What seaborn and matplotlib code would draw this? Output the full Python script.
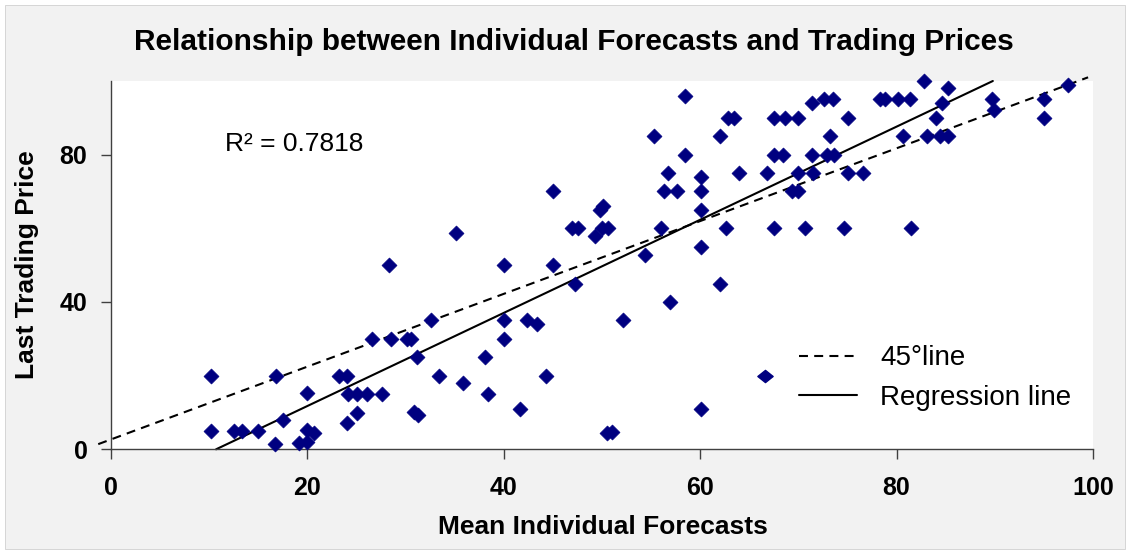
import matplotlib
matplotlib.use("Agg")
import matplotlib.pyplot as plt
from matplotlib.patches import Rectangle
from matplotlib.lines import Line2D
from matplotlib.path import Path
import seaborn as sns
import pandas as pd

# ---- data ----
mean_forecast = [
    10.2, 10.2, 12.5, 13.3, 15.0, 16.8, 17.5, 16.7, 19.1, 20.0,
    20.0, 20.7, 20.0, 23.2, 24.0, 24.1, 25.1, 26.1, 27.6, 24.0,
    25.1, 26.6, 28.5, 30.1, 30.5, 28.3, 31.2, 30.9, 31.3, 32.6,
    33.4, 35.1, 35.8, 38.1, 38.4, 40.0, 40.0, 40.0, 42.4, 43.4,
    44.3, 41.6, 45.0, 45.0, 47.3, 46.9, 47.6, 49.3, 49.8, 50.1,
    50.0, 50.6, 50.5, 51.0, 52.1, 54.4, 55.3, 56.0, 56.3, 56.7,
    57.6, 56.9, 58.5, 58.5, 60.1, 60.1, 60.1, 60.1, 60.1, 62.0,
    62.0, 62.6, 62.8, 63.4, 64.0, 66.8, 67.5, 67.5, 68.4,
    67.5, 68.6, 70.0, 69.3, 70.0, 70.0, 70.7, 71.4, 71.4, 71.5,
    72.6, 73.5, 73.2, 72.9, 73.6, 75.0, 75.0, 74.6, 76.6, 78.3,
    78.8, 80.1, 81.4, 80.7, 81.5, 82.8, 85.2, 84.6, 84.0, 83.1,
    84.4, 85.2, 89.7, 89.9, 95.0, 95.0, 97.5,
]
last_price = [
    20.0, 5.0, 5.0, 5.0, 5.0, 20.0, 8.0, 1.5, 1.8, 2.1,
    5.2, 4.3, 15.3, 20.0, 20.0, 15.0, 15.0, 15.0, 15.0, 7.2,
    9.8, 30.0, 30.0, 30.0, 30.0, 50.0, 25.0, 10.2, 9.4, 35.0,
    20.0, 58.7, 18.0, 25.0, 15.0, 50.0, 35.0, 30.0, 35.0, 34.0,
    20.0, 11.0, 70.0, 50.0, 45.0, 60.0, 60.0, 58.0, 65.0, 66.0,
    60.0, 60.0, 4.5, 4.8, 35.0, 52.7, 85.0, 60.0, 70.0, 75.0,
    70.0, 40.0, 96.0, 80.0, 74.0, 70.0, 65.0, 55.0, 11.0, 85.0,
    45.0, 60.0, 90.0, 90.0, 75.0, 75.0, 90.0, 80.0, 80.0,
    60.0, 90.0, 90.0, 70.0, 70.0, 75.0, 60.0, 94.0, 80.0, 75.0,
    95.0, 95.0, 85.0, 80.0, 80.0, 90.0, 75.0, 60.0, 75.0, 95.0,
    95.0, 95.0, 95.0, 85.0, 60.0, 100.0, 98.0, 94.0, 90.0, 85.0,
    85.0, 85.0, 95.0, 92.0, 95.0, 90.0, 99.0,
]
line45_x = [-1.3, 99.5]
line45_y = [1.4, 101.0]
reg_x = [10.7, 89.8]
reg_y = [0.0, 100.0]
x_ticks = [0, 20, 40, 60, 80, 100]
y_ticks = [0, 40, 80]
r2_text = "R\u00b2 = 0.7818"
title = "Relationship between Individual Forecasts and Trading Prices"
x_label = "Mean Individual Forecasts"
y_label = "Last Trading Price"
legend_labels = ["45\u00b0line", "Regression line"]

# ---- style ----
sns.set_style("ticks")
plt.rcParams["font.family"] = ["Liberation Sans", "DejaVu Sans"]
plt.rcParams["text.color"] = "black"

W, H = 1130, 552
fig = plt.figure(figsize=(W / 100, H / 100), dpi=100, facecolor="white")
fig.patches.append(Rectangle((5 / W, 3 / H), 1120 / W, 544 / H,
                             transform=fig.transFigure, facecolor="#f2f2f2",
                             edgecolor="#d0d0d0", linewidth=0.6, zorder=-10))

ax_l, ax_r, ax_t, ax_b = 111, 1093, 81, 449.3
ax = fig.add_axes([ax_l / W, 1 - ax_b / H, (ax_r - ax_l) / W, (ax_b - ax_t) / H])
ax.set_facecolor("white")
ax.set_zorder(1)

navy = "#000080"
df = pd.DataFrame({"x": mean_forecast, "y": last_price})
sns.scatterplot(data=df, x="x", y="y", marker="D", color=navy, s=58,
                edgecolor=navy, linewidth=0.5, ax=ax, zorder=3, clip_on=False)

ax.plot(line45_x, line45_y, color="black", lw=1.5, dashes=(4.3, 3.0),
        clip_on=False, zorder=2)
ax.plot(reg_x, reg_y, color="black", lw=1.5, clip_on=False, zorder=2)

ax.set_xlim(0, 100)
ax.set_ylim(0, 100)
ax.set_xticks(x_ticks)
ax.set_yticks(y_ticks)
ax.set_xlabel("")
ax.set_ylabel("")
for s in ["top", "right"]:
    ax.spines[s].set_visible(False)
for s in ["left", "bottom"]:
    ax.spines[s].set_color("#404040")
    ax.spines[s].set_linewidth(1.0)
ax.tick_params(axis="both", direction="out", length=7, width=1.0, color="#404040",
               labelsize=18, labelcolor="black")
ax.tick_params(axis="x", pad=12)
ax.tick_params(axis="y", pad=10)
for lab in ax.get_xticklabels() + ax.get_yticklabels():
    lab.set_fontweight("bold")

ax.text(11.6, 81.1, r2_text, fontsize=19, va="baseline", ha="left", color="black")

fig.text(574 / W, 1 - 50 / H, title, fontsize=21.5, fontweight="bold",
         ha="center", va="baseline", color="black")
fig.text(603 / W, 1 - 534 / H, x_label, fontsize=19, fontweight="bold",
         ha="center", va="baseline", color="black")
fig.text(27 / W, 1 - 265 / H, y_label, fontsize=19, fontweight="bold",
         ha="center", va="center", rotation=90, color="black")

handles = [Line2D([], [], color="black", lw=1.5, dashes=(4.3, 3.0)),
           Line2D([], [], color="black", lw=1.5)]
leg = ax.legend(handles, legend_labels, loc="center left",
                bbox_to_anchor=(799 / W, 1 - 378 / H), bbox_transform=fig.transFigure,
                frameon=False, fontsize=20, handlelength=2.1, handletextpad=0.82,
                labelspacing=0.48, borderpad=0, borderaxespad=0)
for t in leg.get_texts():
    t.set_color("black")
ax.add_artist(leg)

flat_diamond = Path([(-1, 0), (0, 0.8), (1, 0), (0, -0.8), (-1, 0)],
                    [Path.MOVETO, Path.LINETO, Path.LINETO, Path.LINETO, Path.CLOSEPOLY])
dh = [Line2D([0], [0], marker=flat_diamond, color=navy, markerfacecolor=navy,
             markeredgecolor=navy, linestyle="none", markersize=11)]
leg2 = ax.legend(handles=dh, labels=[" "], loc="center left",
                 bbox_to_anchor=(758 / W, 1 - 377 / H),
                 bbox_transform=fig.transFigure, frameon=False, fontsize=10,
                 handlelength=1.0, handletextpad=0.0, borderpad=0, borderaxespad=0)
leg2.set_zorder(5)

fig.savefig("out.png", dpi=100, facecolor=fig.get_facecolor())
